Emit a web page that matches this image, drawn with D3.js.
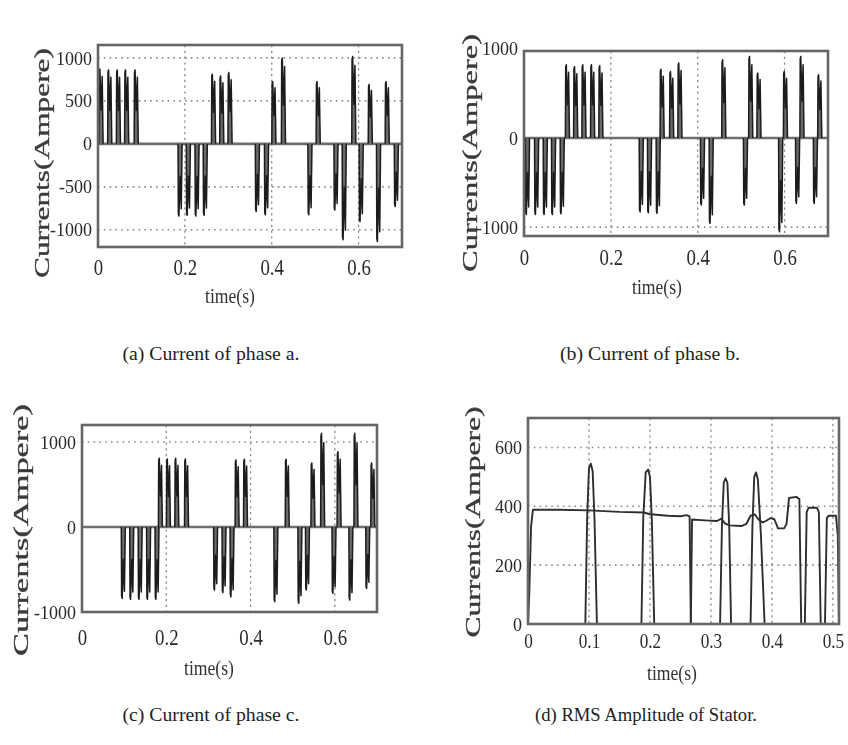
<!DOCTYPE html>
<html>
<head>
<meta charset="utf-8">
<script src="https://cdn.jsdelivr.net/npm/d3@7/dist/d3.min.js"></script>
<style>
  html, body { margin: 0; padding: 0; background: #fff; }
  svg { display: block; }
</style>
</head>
<body>
<svg id="fig" width="848" height="745"></svg>
<script>
// Phase currents: each pulse is [time (s), peak current (A)]
const phaseA = [
  [0.007, 870], [0.027, 860], [0.047, 860], [0.066, 860], [0.088, 860],
  [0.189, -840], [0.208, -830], [0.228, -840], [0.247, -830],
  [0.266, 810], [0.285, 790], [0.304, 830],
  [0.367, -787], [0.388, -826],
  [0.405, 724], [0.427, 1000],
  [0.488, -826], [0.507, 724],
  [0.548, -770], [0.567, -1116], [0.589, 1015], [0.606, -903],
  [0.627, 690], [0.646, -1136], [0.666, 724], [0.687, -729]
];
const phaseB = [
  [0.008, -860], [0.029, -860], [0.049, -860], [0.068, -860], [0.088, -850],
  [0.100, 820], [0.119, 800], [0.138, 820], [0.158, 820], [0.177, 810],
  [0.270, -830], [0.289, -840], [0.309, -845],
  [0.318, 770], [0.340, 745], [0.359, 840],
  [0.411, -753], [0.431, -958],
  [0.460, 876],
  [0.510, -753], [0.522, 913], [0.541, 727],
  [0.591, -1053], [0.602, 745],
  [0.630, -734], [0.640, 913],
  [0.671, -734], [0.681, 708]
];
const phaseC = [
  [0.098, -840], [0.118, -850], [0.138, -850], [0.158, -850], [0.178, -850],
  [0.186, 808], [0.205, 800], [0.225, 808], [0.248, 800],
  [0.317, -741], [0.337, -770], [0.356, -820],
  [0.368, 788], [0.388, 798],
  [0.460, -878], [0.487, 798],
  [0.517, -898], [0.535, -741], [0.548, 753], [0.571, 1102],
  [0.598, -780], [0.610, 886], [0.638, -859], [0.650, 1102],
  [0.678, -722], [0.690, 753]
];

// Stator RMS amplitude traces: [time (s), current (A)]
const rmsA = [
  [0, 0], [0.002, 100], [0.005, 330], [0.008, 388], [0.05, 388], [0.1, 386],
  [0.15, 381], [0.19, 379], [0.2, 373], [0.23, 368], [0.25, 366], [0.26, 370],
  [0.265, 366], [0.267, 0], [0.315, 0], [0.318, 330], [0.321, 480], [0.324, 495],
  [0.327, 480], [0.33, 330], [0.333, 0], [0.365, 0], [0.368, 330], [0.371, 500],
  [0.374, 515], [0.377, 490], [0.382, 300], [0.388, 0], [0.454, 0], [0.457, 380],
  [0.46, 395], [0.474, 395], [0.477, 380], [0.48, 0], [0.487, 0], [0.49, 360],
  [0.493, 368], [0.505, 368], [0.508, 300], [0.51, 0]
];
const rmsB = [
  [0, 0], [0.094, 0], [0.097, 360], [0.1, 530], [0.103, 545], [0.106, 520],
  [0.109, 360], [0.113, 0], [0.186, 0], [0.189, 360], [0.193, 515], [0.197, 525],
  [0.2, 500], [0.203, 360], [0.207, 0], [0.267, 0], [0.269, 355], [0.29, 352],
  [0.31, 350], [0.317, 358], [0.323, 342], [0.33, 335], [0.35, 333], [0.358, 340],
  [0.365, 368], [0.372, 372], [0.378, 355], [0.385, 345], [0.39, 350], [0.398, 360],
  [0.404, 356], [0.41, 325], [0.42, 325], [0.424, 340], [0.428, 428], [0.44, 432],
  [0.445, 425], [0.448, 0], [0.51, 0]
];

// Axis ticks
const currentTicks = [-1000, -500, 0, 500, 1000];
const currentTicksBC = [-1000, 0, 1000];
const timeTicks = [0, 0.2, 0.4, 0.6];
const rmsTicks = [0, 200, 400, 600];
const rmsTimeTicks = [0, 0.1, 0.2, 0.3, 0.4, 0.5];

const captions = [
  "(a) Current of phase a.",
  "(b) Current of phase b.",
  "(c) Current of phase c.",
  "(d) RMS Amplitude of Stator."
];

const svg = d3.select("#fig");
const defs = svg.append("defs");
defs.append("filter").attr("id", "soft")
  .attr("x", "-5%").attr("y", "-5%").attr("width", "110%").attr("height", "110%")
  .append("feGaussianBlur").attr("stdDeviation", 0.65);

const serif = "'Liberation Serif', 'Times New Roman', serif";

function panel(cfg) {
  const g = svg.append("g").attr("filter", "url(#soft)");
  const x = d3.scaleLinear().domain(cfg.xDomain).range([cfg.left, cfg.right]);
  const y = d3.scaleLinear().domain(cfg.yDomain).range([cfg.bottom, cfg.top]);

  // grid
  g.append("g").selectAll("line").data(cfg.yTicks.filter(v => y(v) > cfg.top + 3 && y(v) < cfg.bottom - 3 && v !== 0))
    .join("line")
    .attr("x1", cfg.left).attr("x2", cfg.right)
    .attr("y1", d => y(d)).attr("y2", d => y(d))
    .attr("stroke", "#8a8a8a").attr("stroke-width", 1.6)
    .attr("stroke-dasharray", "1.6,4.2");
  g.append("g").selectAll("line").data(cfg.xTicks.filter(v => x(v) > cfg.left + 3 && x(v) < cfg.right - 3))
    .join("line")
    .attr("x1", d => x(d)).attr("x2", d => x(d))
    .attr("y1", cfg.top).attr("y2", cfg.bottom)
    .attr("stroke", "#8a8a8a").attr("stroke-width", 1.3)
    .attr("stroke-dasharray", "2.2,3.6");

  const plot = g.append("g");
  cfg.draw(plot, x, y);

  // frame
  g.append("rect")
    .attr("x", cfg.left).attr("y", cfg.top)
    .attr("width", cfg.right - cfg.left).attr("height", cfg.bottom - cfg.top)
    .attr("fill", "none").attr("stroke", "#666").attr("stroke-width", 2.6);

  // axes (labels only)
  const yAxis = d3.axisLeft(y).tickValues(cfg.yTicks).tickSize(0).tickPadding(0)
    .tickFormat(d => String(d));
  const ya = g.append("g").attr("transform", `translate(${cfg.left - 6},0)`).call(yAxis);
  ya.select(".domain").remove();
  ya.selectAll("text").attr("font-family", serif).attr("font-size", 18)
    .attr("fill", "#2a2a2a").attr("dy", "0.34em");

  const xAxis = d3.axisBottom(x).tickValues(cfg.xTicks).tickSize(0).tickPadding(0)
    .tickFormat(d => d === 0 ? "0" : d3.format(".1f")(d));
  const xa = g.append("g").attr("transform", `translate(0,${cfg.xLabelBase})`).call(xAxis);
  xa.select(".domain").remove();
  xa.selectAll("text").attr("font-family", serif).attr("font-size", cfg.xFont || 23)
    .attr("fill", "#2a2a2a").attr("dy", 0).attr("y", 0)
    .attr("transform", "scale(0.82,1)");

  g.append("text")
    .attr("x", cfg.timeX).attr("y", cfg.timeBase)
    .attr("text-anchor", "middle")
    .attr("font-family", serif).attr("font-size", 20).attr("fill", "#333")
    .attr("textLength", 50).attr("lengthAdjust", "spacingAndGlyphs")
    .text("time(s)");

  g.append("text")
    .attr("transform", `translate(${cfg.ylabX},${cfg.ylabY}) rotate(-90)`)
    .attr("text-anchor", "middle").attr("dy", "0.3em")
    .attr("font-family", serif).attr("font-size", 21)
    .attr("fill", "#3a3a3a").attr("stroke", "#3a3a3a").attr("stroke-width", 0.35)
    .attr("textLength", cfg.ylabLen).attr("lengthAdjust", "spacingAndGlyphs")
    .text("Currents(Ampere)");

  svg.append("text")
    .attr("x", cfg.capX).attr("y", cfg.capY)
    .attr("text-anchor", "middle")
    .attr("font-family", serif).attr("font-size", 18).attr("fill", "#222")
    .attr("textLength", cfg.capLen).attr("lengthAdjust", "spacingAndGlyphs")
    .text(cfg.caption);
}

// draws a zero baseline and one lobe per pulse
function pulseDraw(pulses, span) {
  const w = 0.0095;
  return (plot, x, y) => {
    plot.append("line")
      .attr("x1", x(span[0])).attr("x2", x(span[1]))
      .attr("y1", y(0)).attr("y2", y(0))
      .attr("stroke", "#6e6e6e").attr("stroke-width", 2.6);
    const lobe = d3.line().x(d => x(d[0])).y(d => y(d[1]));
    plot.selectAll("path.p").data(pulses).join("path")
      .attr("class", "p")
      .attr("d", ([t, p]) => lobe([
        [t - w / 2, 0], [t - w / 2 + 0.08 * w, 0.97 * p], [t - w / 2 + 0.22 * w, p],
        [t, 0.45 * p], [t + w / 2 - 0.22 * w, 0.9 * p], [t + w / 2, 0]
      ]))
      .attr("fill", "#6a6a6a")
      .attr("stroke", "#1c1c1c").attr("stroke-width", 1.5)
      .attr("stroke-linejoin", "round");
  };
}

panel({
  left: 98, right: 402, top: 45, bottom: 247,
  xDomain: [0, 0.7], yDomain: [-1200, 1150],
  xTicks: timeTicks, yTicks: currentTicks,
  xLabelBase: 275, timeX: 230, timeBase: 303,
  ylabX: 42.5, ylabY: 163, ylabLen: 230,
  capX: 211, capY: 360, capLen: 177, caption: captions[0],
  draw: pulseDraw(phaseA, [0, 0.7])
});

panel({
  left: 524, right: 828, top: 51, bottom: 236,
  xDomain: [0, 0.7], yDomain: [-1100, 975],
  xTicks: timeTicks, yTicks: currentTicksBC,
  xLabelBase: 265, timeX: 657, timeBase: 294,
  ylabX: 471, ylabY: 153, ylabLen: 238,
  capX: 650, capY: 360, capLen: 180, caption: captions[1],
  draw: pulseDraw(phaseB, [0, 0.7])
});

panel({
  left: 82, right: 377, top: 425, bottom: 612,
  xDomain: [0, 0.7], yDomain: [-1000, 1200],
  xTicks: timeTicks, yTicks: currentTicksBC,
  xLabelBase: 645, timeX: 209, timeBase: 675,
  ylabX: 21.5, ylabY: 530, ylabLen: 252,
  capX: 211, capY: 721, capLen: 177, caption: captions[2],
  draw: pulseDraw(phaseC, [0, 0.7])
});

panel({
  left: 528, right: 839, top: 418, bottom: 624,
  xDomain: [0, 0.51], yDomain: [0, 700],
  xTicks: rmsTimeTicks, yTicks: rmsTicks,
  xLabelBase: 648, xFont: 21, timeX: 672, timeBase: 680,
  ylabX: 473.5, ylabY: 522, ylabLen: 231,
  capX: 646, capY: 721, capLen: 222, caption: captions[3],
  draw: (plot, x, y) => {
    const line = d3.line().x(d => x(d[0])).y(d => y(d[1]));
    [rmsB, rmsA].forEach(s => {
      plot.append("path").attr("d", line(s))
        .attr("fill", "none").attr("stroke", "#2e2e2e").attr("stroke-width", 1.9)
        .attr("stroke-linejoin", "round");
    });
  }
});
</script>
</body>
</html>
